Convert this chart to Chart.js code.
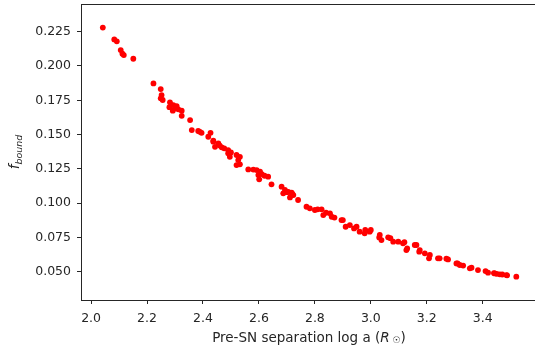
<!DOCTYPE html>
<html>
<head>
<meta charset="utf-8">
<script src="https://cdn.jsdelivr.net/npm/chart.js@4"></script>
<style>
  html, body { margin: 0; padding: 0; overflow: hidden; background: #fff; }
  canvas { display: block; }
</style>
</head>
<body>
<canvas id="chart" width="545" height="352"></canvas>
<script>
// DATA
const sepLogA = [
  2.042, 2.083, 2.092, 2.106, 2.112, 2.117, 2.151, 2.223, 2.249, 2.252,
  2.249, 2.256, 2.282, 2.294, 2.306, 2.292, 2.312, 2.324, 2.324, 2.354,
  2.360, 2.383, 2.395, 2.389, 2.427, 2.419, 2.437, 2.437, 2.455, 2.443,
  2.467, 2.476, 2.490, 2.490, 2.496, 2.520, 2.532, 2.526, 2.520, 2.532,
  2.562, 2.592, 2.604, 2.598, 2.610, 2.601, 2.633, 2.645, 2.681, 2.693,
  2.705, 2.717, 2.723, 2.687, 2.711, 2.740, 2.770, 2.782, 2.800, 2.824,
  2.830, 2.854, 2.860, 2.895, 2.925, 2.949, 2.910, 2.940, 2.960, 2.978,
  2.996, 3.032, 3.038, 3.062, 3.080, 3.098, 3.115, 3.127, 3.163, 3.175,
  3.193, 3.211, 3.157, 3.173, 3.208, 3.240, 3.276, 3.306, 3.318, 3.354,
  3.383, 3.419, 3.443, 3.461, 3.485, 3.520, 3.246, 3.270, 3.310, 3.360,
  3.410, 3.450, 3.487, 2.900, 2.980, 3.030, 3.070, 3.120, 3.130, 3.000,
  2.280, 2.300, 2.460, 2.500, 2.580, 2.620, 2.700, 2.720, 2.870, 2.810,
  2.840, 3.330, 3.440, 3.470
];
const fBound = [
  0.2280, 0.2194, 0.2180, 0.2116, 0.2090, 0.2080, 0.2053, 0.1873, 0.1832, 0.1788,
  0.1764, 0.1752, 0.1735, 0.1715, 0.1708, 0.1674, 0.1684, 0.1674, 0.1637, 0.1606,
  0.1533, 0.1526, 0.1513, 0.1520, 0.1513, 0.1484, 0.1455, 0.1448, 0.1436, 0.1411,
  0.1407, 0.1400, 0.1387, 0.1363, 0.1338, 0.1351, 0.1338, 0.1314, 0.1278, 0.1283,
  0.1246, 0.1241, 0.1229, 0.1205, 0.1212, 0.1174, 0.1193, 0.1137, 0.1120, 0.1096,
  0.1083, 0.1076, 0.1059, 0.1072, 0.1042, 0.1023, 0.0974, 0.0962, 0.0950, 0.0955,
  0.0913, 0.0926, 0.0901, 0.0877, 0.0840, 0.0828, 0.0828, 0.0816, 0.0792, 0.0780,
  0.0792, 0.0768, 0.0731, 0.0751, 0.0719, 0.0719, 0.0707, 0.0658, 0.0695, 0.0658,
  0.0634, 0.0622, 0.0695, 0.0646, 0.0598, 0.0598, 0.0590, 0.0561, 0.0549, 0.0525,
  0.0512, 0.0493, 0.0488, 0.0481, 0.0476, 0.0464, 0.0598, 0.0595, 0.0560, 0.0530,
  0.0505, 0.0485, 0.0474, 0.0877, 0.0805, 0.0750, 0.0745, 0.0715, 0.0670, 0.0805,
  0.1700, 0.1690, 0.1420, 0.1370, 0.1245, 0.1200, 0.1080, 0.1065, 0.0895, 0.0955,
  0.0930, 0.0545, 0.0490, 0.0480
];
const xTicks = [2.0, 2.2, 2.4, 2.6, 2.8, 3.0, 3.2, 3.4];
const yTicks = [0.050, 0.075, 0.100, 0.125, 0.150, 0.175, 0.200, 0.225];

const ink = "#262626";
const font = "DejaVu Sans";

// MARCO Y ETIQUETAS DE EJES (f_bound y R con símbolo solar)
const framePlugin = {
  id: "frame",
  afterDraw(chart) {
    const { ctx, chartArea: a } = chart;
    ctx.save();
    ctx.strokeStyle = ink;
    ctx.lineWidth = 1;
    ctx.strokeRect(Math.round(a.left) + 0.5, Math.round(a.top) + 0.5,
      Math.round(a.right - a.left), Math.round(a.bottom - a.top));

    ctx.fillStyle = ink;
    ctx.textBaseline = "alphabetic";
    // x label
    const parts = [
      ["Pre-SN separation log a (", `13.5px '${font}'`, 0],
      ["R", `italic 13.5px '${font}'`, 0],
      [" \u2609", `9px '${font}'`, 1],
      [")", `13.5px '${font}'`, 0],
    ];
    let total = 0;
    parts.forEach((p) => { ctx.font = p[1]; total += ctx.measureText(p[0]).width; });
    let x = (a.left + a.right) / 2 - total / 2;
    const y = 342;
    parts.forEach((p) => {
      ctx.font = p[1];
      ctx.fillText(p[0], x, y + p[2]);
      x += ctx.measureText(p[0]).width;
    });

    // y label
    ctx.translate(19, (a.top + a.bottom) / 2);
    ctx.rotate(-Math.PI / 2);
    ctx.font = `italic 13.5px '${font}'`;
    const wf = ctx.measureText("f").width;
    ctx.font = `italic 9.5px '${font}'`;
    const wb = ctx.measureText("bound").width;
    const sx = -(wf + wb) / 2;
    ctx.font = `italic 13.5px '${font}'`;
    ctx.fillText("f", sx, 0);
    ctx.font = `italic 9.5px '${font}'`;
    ctx.fillText("bound", sx + wf, 3);
    ctx.restore();
  },
};

const config = {
  type: "scatter",
  data: {
    datasets: [
      {
        data: sepLogA.map((v, i) => ({ x: v, y: fBound[i] })),
        backgroundColor: "#ff0000",
        borderWidth: 0,
        pointRadius: 2.9,
        pointHoverRadius: 2.9,
      },
    ],
  },
  options: {
    responsive: false,
    animation: false,
    layout: { padding: { top: 4, right: 8, left: 0, bottom: 0 } },
    plugins: { legend: { display: false }, tooltip: { enabled: false } },
    scales: {
      x: {
        type: "linear",
        min: 1.964,
        max: 3.594,
        afterBuildTicks: (s) => { s.ticks = xTicks.map((v) => ({ value: v })); },
        afterFit: (s) => { s.height = 52; s.paddingLeft = 0; s.paddingRight = 0; },
        border: { display: false },
        grid: { drawOnChartArea: false, tickLength: 4, tickColor: ink, color: ink },
        ticks: {
          color: ink,
          padding: 7,
          maxRotation: 0,
          font: { family: font, size: 12.5 },
          callback: (v) => v.toFixed(1),
        },
      },
      y: {
        type: "linear",
        min: 0.0294,
        max: 0.2452,
        afterBuildTicks: (s) => { s.ticks = yTicks.map((v) => ({ value: v })); },
        afterFit: (s) => { s.width = 81; s.paddingTop = 0; s.paddingBottom = 0; },
        border: { display: false },
        grid: { drawOnChartArea: false, tickLength: 4, tickColor: ink, color: ink },
        ticks: {
          color: ink,
          padding: 6,
          font: { family: font, size: 12.5 },
          callback: (v) => v.toFixed(3),
        },
      },
    },
  },
  plugins: [framePlugin],
};

new Chart(document.getElementById("chart"), config);
</script>
</body>
</html>
